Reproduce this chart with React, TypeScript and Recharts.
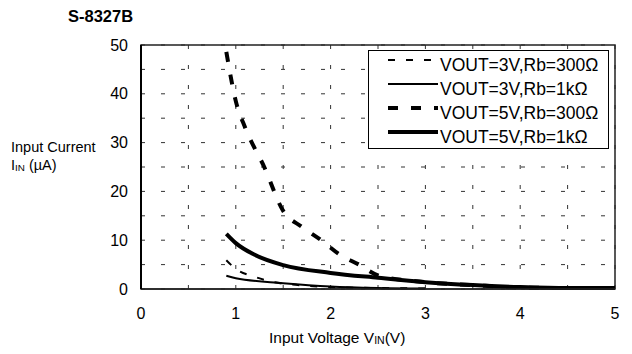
import { LineChart, Line, XAxis, YAxis, CartesianGrid, Legend, ReferenceArea } from "recharts"

const FONT = '"Liberation Sans", Arial, Helvetica, sans-serif'

// VOUT=3V, Rb=300 ohm
const vin3v300 = [0.9, 1.0, 1.2, 1.4, 1.6, 2.0, 2.5, 3.0]
const iin3v300 = [5.9, 4.1, 2.5, 1.4, 0.9, 0.4, 0.2, 0.1]
// VOUT=3V, Rb=1k ohm
const vin3v1k = [0.9, 1.0, 1.5, 2.0, 2.5, 3.0]
const iin3v1k = [2.7, 2.2, 1.2, 0.5, 0.2, 0.1]
// VOUT=5V, Rb=300 ohm
const vin5v300 = [0.9, 1.0, 1.1, 1.3, 1.5, 1.7, 1.9, 2.1, 2.3, 2.5, 3.0, 3.5, 4.0, 4.5, 5.0]
const iin5v300 = [48.6, 38.5, 33, 25, 16, 12.7, 10, 7, 5, 2.8, 1.4, 0.8, 0.3, 0.2, 0.2]
// VOUT=5V, Rb=1k ohm
const vin5v1k = [0.9, 1.0, 1.2, 1.5, 2.0, 2.5, 3.0, 3.5, 4.0, 4.5, 5.0]
const iin5v1k = [11.3, 9.4, 7.0, 4.9, 3.3, 2.3, 1.4, 0.8, 0.4, 0.2, 0.2]

const xTicks = [0, 0.5, 1, 1.5, 2, 2.5, 3, 3.5, 4, 4.5, 5]
const yTicks = [0, 5, 10, 15, 20, 25, 30, 35, 40, 45, 50]

const toPoints = (xs: number[], ys: number[]) => xs.map((v, i) => ({ vin: v, iin: ys[i] }))

const series = [
  { name: "VOUT=3V,Rb=300Ω", data: toPoints(vin3v300, iin3v300), width: 2, dash: "7 11" },
  { name: "VOUT=3V,Rb=1kΩ", data: toPoints(vin3v1k, iin3v1k), width: 2, dash: undefined },
  { name: "VOUT=5V,Rb=300Ω", data: toPoints(vin5v300, iin5v300), width: 4, dash: "10 13" },
  { name: "VOUT=5V,Rb=1kΩ", data: toPoints(vin5v1k, iin5v1k), width: 4, dash: undefined },
]

function LegendBox() {
  return (
    <div
      style={{
        width: 239,
        height: 95,
        paddingTop: 2,
        boxSizing: "content-box",
        border: "1px solid #000",
        background: "#fff",
        fontFamily: FONT,
        fontSize: 17.5,
        color: "#000",
      }}
    >
      {series.map((s) => (
        <div key={s.name} style={{ display: "flex", alignItems: "center", height: 24, whiteSpace: "nowrap" }}>
          <svg width={50} height={24} style={{ marginLeft: 19, marginRight: 2, display: "block" }}>
            <line x1={0} y1={7} x2={50} y2={7} stroke="#000" strokeWidth={s.width} strokeDasharray={s.dash} />
          </svg>
          <span>{s.name}</span>
        </div>
      ))}
    </div>
  )
}

const sub = { fontSize: "0.68em", position: "relative" as const, top: 1 }

export default function App() {
  return (
    <div style={{ position: "relative", width: 632, height: 354, fontFamily: FONT, color: "#000" }}>
      <style>{"body{margin:0}"}</style>
      <LineChart width={632} height={354} margin={{ top: 45, right: 17, bottom: 35, left: 81 }}>
        <CartesianGrid stroke="#333" strokeDasharray="4 16" />
        <XAxis
          dataKey="vin"
          type="number"
          domain={[0, 5]}
          ticks={xTicks}
          allowDuplicatedCategory={false}
          height={30}
          tickSize={0}
          tickMargin={19}
          tickLine={false}
          axisLine={{ stroke: "#222", strokeWidth: 1.5 }}
          tick={{ fill: "#000", fontSize: 16, fontFamily: FONT }}
          tickFormatter={(v: number) => (Number.isInteger(v) ? String(v) : "")}
        />
        <YAxis
          type="number"
          domain={[0, 50]}
          ticks={yTicks}
          width={60}
          tickSize={0}
          tickMargin={13}
          tickLine={false}
          axisLine={{ stroke: "#000", strokeWidth: 2 }}
          tick={{ fill: "#000", fontSize: 16, fontFamily: FONT }}
          tickFormatter={(v: number) => (v % 10 === 0 ? String(v) : "")}
        />
        <ReferenceArea x1={0} x2={5} y1={0} y2={50} fill="none" stroke="#222" strokeWidth={1.5} />
        {series.map((s) => (
          <Line
            key={s.name}
            data={s.data}
            dataKey="iin"
            name={s.name}
            type="monotone"
            stroke="#000"
            strokeWidth={s.width}
            strokeDasharray={s.dash}
            dot={false}
            activeDot={false}
            isAnimationActive={false}
          />
        ))}
        <Legend
          layout="vertical"
          align="center"
          verticalAlign="middle"
          content={() => <LegendBox />}
          wrapperStyle={{ left: 368, top: 50, width: 241, height: 97 }}
        />
      </LineChart>
      <div style={{ position: "absolute", left: 68, top: 8, fontSize: 16.5, fontWeight: "bold", lineHeight: 1 }}>S-8327B</div>
      <div style={{ position: "absolute", left: 11, top: 140, fontSize: 14.5, lineHeight: 1 }}>Input Current</div>
      <div style={{ position: "absolute", left: 11, top: 158, fontSize: 14.5, lineHeight: 1 }}>
        I<span style={sub}>IN</span> (µA)
      </div>
      <div style={{ position: "absolute", left: 269, top: 330, fontSize: 15.5, lineHeight: 1, whiteSpace: "nowrap" }}>
        Input Voltage V<span style={sub}>IN</span>(V)
      </div>
    </div>
  )
}
